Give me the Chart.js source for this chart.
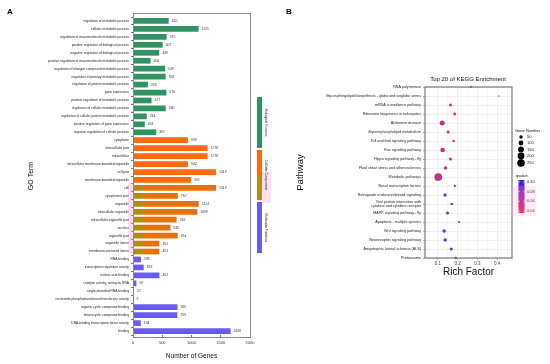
<!DOCTYPE html>
<html>
<head>
<meta charset="utf-8">
<script src="https://cdn.jsdelivr.net/npm/chart.js@4.4.0/dist/chart.umd.min.js"></script>
<style>
  html, body { margin: 0; padding: 0; background: #fff; }
  #wrap { position: relative; width: 550px; height: 364px; }
  canvas { position: absolute; left: 0; top: 0; }
</style>
</head>
<body>
<div id="wrap">
  <canvas id="goChart" width="550" height="364"></canvas>
  <canvas id="keggChart" width="550" height="364"></canvas>
</div>
<script>
// ---- panel A: GO terms ----
const bpTerms = [
  'regulation of metabolic process', 'cellular metabolic process',
  'regulation of macromolecule metabolic process', 'positive regulation of biological process',
  'negative regulation of biological process', 'positive regulation of macromolecule metabolic process',
  'regulation of nitrogen compound metabolic process', 'regulation of primary metabolic process',
  'regulation of protein metabolic process', 'gene expression',
  'positive regulation of metabolic process', 'regulation of cellular metabolic process',
  'regulation of cellular protein metabolic process', 'positive regulation of gene expression',
  'negative regulation of cellular process'
];
const bpCounts = [610, 1121, 575, 507, 449, 300, 549, 558, 255, 570, 317, 560, 234, 201, 397];

const ccTerms = [
  'cytoplasm', 'intracellular part', 'intracellular', 'intracellular membrane-bounded organelle',
  'cell part', 'membrane-bounded organelle', 'cell', 'cytoplasmic part', 'organelle',
  'intracellular organelle', 'intracellular organelle part', 'nucleus', 'organelle part',
  'organelle lumen', 'membrane-enclosed lumen'
];
const ccCounts = [939, 1276, 1276, 942, 1419, 992, 1419, 767, 1124, 1099, 746, 642, 764, 451, 451];

const mfTerms = [
  'RNA binding', 'transcription regulation activity', 'nucleic acid binding',
  'catalytic activity, acting on RNA', 'single-stranded RNA binding',
  'nucleotide phosphotransferase/transferase activity', 'organic cyclic compound binding',
  'heterocyclic compound binding', 'DNA-binding transcription factor activity', 'binding'
];
const mfCounts = [136, 183, 452, 59, 17, 9, 760, 759, 134, 1669];

const groupNames = ['Biological Process', 'Cellular Component', 'Molecular Function'];
const groupColors = ['#2f9363', '#ff6a0a', '#6b5cf0'];

// rows that sit under the pink highlight in the original figure
const highlightTerms = ['cell', 'cytoplasmic part', 'organelle', 'intracellular organelle',
  'intracellular organelle part', 'nucleus', 'organelle part', 'organelle lumen', 'membrane-enclosed lumen'];

const goTerms = bpTerms.concat(ccTerms, mfTerms);
const geneCounts = bpCounts.concat(ccCounts, mfCounts);
const barColors = bpTerms.map(() => groupColors[0])
  .concat(ccTerms.map(() => groupColors[1]), mfTerms.map(() => groupColors[2]));

// ---- panel B: KEGG ----
const keggPathways = [
  'RNA polymerase', 'Glycosphingolipid biosynthesis - globo and isoglobo series',
  'mRNA surveillance pathway', 'Ribosome biogenesis in eukaryotes', 'Alzheimer disease',
  'Glycerophospholipid metabolism', 'Toll and Imd signaling pathway', 'Ras signaling pathway',
  'Hippo signaling pathway - fly', 'Fluid shear stress and atherosclerosis', 'Metabolic pathways',
  'Basal transcription factors', 'Retrograde endocannabinoid signaling',
  ['Viral protein interaction with', 'cytokine and cytokine receptor'],
  'MAPK signaling pathway - fly', 'Apoptosis - multiple species', 'Wnt signaling pathway',
  'Neurotrophin signaling pathway', 'Amyotrophic lateral sclerosis (ALS)', 'Proteasome'
];
const richFactor = [0.268, 0.408, 0.164, 0.185, 0.122, 0.152, 0.180, 0.124, 0.164, 0.139,
  0.102, 0.186, 0.136, 0.170, 0.149, 0.207, 0.132, 0.137, 0.168, 0.190];
const geneNumber = [22, 10, 40, 35, 110, 40, 28, 90, 40, 55, 260, 22, 50, 30, 45, 18, 55, 50, 40, 28];
const qValue = [0.045, 0.04, 0.05, 0.05, 0.052, 0.053, 0.053, 0.055, 0.056, 0.058, 0.058,
  0.07, 0.08, 0.08, 0.082, 0.085, 0.09, 0.09, 0.095, 0.098];
const sizeBreaks = [50, 100, 150, 200, 250];
const qBreaks = [0.10, 0.08, 0.06, 0.04];

const FONT = "'Liberation Sans', Arial, sans-serif";

function qColor(q, a) {
  let t = (q - 0.04) / 0.06;
  t = Math.max(0, Math.min(1, t));
  const r = Math.round(245 * (1 - t) + 55 * t);
  const g = Math.round(25 * (1 - t) + 30 * t);
  const b = Math.round(70 * (1 - t) + 245 * t);
  return 'rgba(' + r + ',' + g + ',' + b + ',' + a + ')';
}
function bubbleSize(n) {
  return Math.max(0.8, Math.sqrt(n) * 0.24);
}

const goDecor = {
  id: 'goDecor',
  afterDraw(chart) {
    const ctx = chart.ctx;
    const xs = chart.scales.x, ys = chart.scales.y;
    ctx.save();
    // panel frame
    ctx.strokeStyle = '#8a8a8a';
    ctx.lineWidth = 1;
    ctx.strokeRect(133.5, 13.5, 117, 324);
    // value labels
    ctx.font = '3.4px ' + FONT;
    ctx.fillStyle = '#333';
    ctx.textBaseline = 'middle';
    ctx.textAlign = 'left';
    geneCounts.forEach((v, i) => {
      ctx.fillText(String(v), xs.getPixelForValue(v) + 3, ys.getPixelForValue(i));
    });
    // pink highlight left of the axis
    ctx.fillStyle = 'rgba(255,150,225,0.35)';
    ctx.fillRect(128, 183, 5, 70);
    // side strips
    const strips = [
      [97, 148, groupColors[0]], [150, 175, groupColors[1]], [175, 200, '#b88a14'], [202, 253, groupColors[2]]
    ];
    strips.forEach(s => {
      ctx.fillStyle = s[2];
      ctx.fillRect(257, s[0], 5, s[1] - s[0]);
    });
    ctx.fillStyle = 'rgba(255,150,225,0.3)';
    ctx.fillRect(262, 172, 9, 31);
    const mids = [122.5, 175, 227.5];
    ctx.fillStyle = '#222';
    ctx.font = '3.4px ' + FONT;
    ctx.textAlign = 'center';
    groupNames.forEach((g, k) => {
      ctx.save();
      ctx.translate(265.5, mids[k]);
      ctx.rotate(Math.PI / 2);
      ctx.fillText(g, 0, 0);
      ctx.restore();
    });
    // panel letter
    ctx.font = 'bold 8px ' + FONT;
    ctx.textAlign = 'left';
    ctx.fillStyle = '#000';
    ctx.fillText('A', 7, 12);
    ctx.restore();
  }
};

new Chart(document.getElementById('goChart'), {
  type: 'bar',
  data: {
    labels: goTerms,
    datasets: [{
      data: geneCounts,
      backgroundColor: function(c) {
        const i = c.dataIndex;
        if (highlightTerms.indexOf(goTerms[i]) < 0) return barColors[i];
        const area = c.chart.chartArea;
        const xs = c.chart.scales.x;
        if (!area || !xs) return barColors[i];
        const g = c.chart.ctx.createLinearGradient(area.left, 0, area.right, 0);
        const stop = (xs.getPixelForValue(190) - area.left) / (area.right - area.left);
        g.addColorStop(0, '#b88a14');
        g.addColorStop(stop, '#b88a14');
        g.addColorStop(stop, '#e5720e');
        g.addColorStop(1, '#e5720e');
        return g;
      },
      borderWidth: 0,
      barPercentage: 0.72,
      categoryPercentage: 1
    }]
  },
  options: {
    indexAxis: 'y',
    responsive: false,
    animation: false,
    devicePixelRatio: 1,
    layout: { padding: { left: 0, top: 17, right: 300, bottom: 0 } },
    plugins: { legend: { display: false }, tooltip: { enabled: false } },
    scales: {
      x: {
        min: 0, max: 2000,
        ticks: { stepSize: 500, font: { size: 4, family: FONT }, color: '#333', padding: 2, maxRotation: 0,
                 callback: v => String(v) },
        grid: { drawOnChartArea: false, tickLength: 3, color: '#777' },
        border: { display: false },
        title: { display: true, text: 'Number of Genes', font: { size: 6.5, family: FONT }, color: '#111',
                 padding: { top: 0, bottom: 4 } },
        afterFit: s => { s.height = 29; }
      },
      y: {
        ticks: { font: { size: 3.3, family: FONT }, color: '#222', padding: 2, autoSkip: false },
        grid: { drawOnChartArea: false, tickLength: 2, color: '#777' },
        border: { display: false },
        title: { display: true, text: 'GO Term', font: { size: 7, family: FONT }, color: '#111',
                 padding: { top: 27 } },
        afterFit: s => { s.width = 133; }
      }
    }
  },
  plugins: [goDecor]
});

const keggDecor = {
  id: 'keggDecor',
  afterDraw(chart) {
    const ctx = chart.ctx;
    const a = chart.chartArea;
    ctx.save();
    ctx.strokeStyle = '#7a7a7a';
    ctx.lineWidth = 1.2;
    ctx.strokeRect(a.left, a.top, a.right - a.left, a.bottom - a.top);
    ctx.fillStyle = '#111';
    ctx.font = '6px ' + FONT;
    ctx.textAlign = 'center';
    ctx.textBaseline = 'middle';
    ctx.fillText('Top 20 of KEGG Enrichment', 468, 79);
    // size legend
    ctx.textAlign = 'left';
    ctx.font = '4px ' + FONT;
    ctx.fillText('Gene Number', 515, 131);
    const ly = [137, 143, 149.5, 156, 163];
    sizeBreaks.forEach((n, k) => {
      ctx.fillStyle = '#000';
      ctx.beginPath();
      ctx.arc(521, ly[k], bubbleSize(n), 0, Math.PI * 2);
      ctx.fill();
      ctx.fillStyle = '#222';
      ctx.fillText(String(n), 527, ly[k]);
    });
    // colour bar
    ctx.fillStyle = '#111';
    ctx.fillText('qvalue', 516, 176);
    const top = 180, bot = 213;
    const g = ctx.createLinearGradient(0, top, 0, bot);
    for (let k = 0; k <= 10; k++) {
      g.addColorStop(k / 10, qColor(0.10 - 0.06 * k / 10, 1));
    }
    ctx.fillStyle = g;
    ctx.fillRect(518.5, top, 6, bot - top);
    qBreaks.forEach(q => {
      const y = top + 2 + (0.10 - q) / 0.06 * (bot - top - 4);
      ctx.strokeStyle = '#fff';
      ctx.lineWidth = 0.6;
      ctx.beginPath(); ctx.moveTo(518.5, y); ctx.lineTo(520, y); ctx.moveTo(523, y); ctx.lineTo(524.5, y); ctx.stroke();
      ctx.fillStyle = '#222';
      ctx.fillText(q.toFixed(2), 527, y);
    });
    ctx.fillStyle = 'rgba(255,160,225,0.22)';
    ctx.fillRect(511, 186, 25, 30);
    ctx.font = 'bold 8px ' + FONT;
    ctx.fillStyle = '#000';
    ctx.fillText('B', 286, 12);
    ctx.restore();
  }
};

new Chart(document.getElementById('keggChart'), {
  type: 'scatter',
  data: {
    labels: keggPathways,
    datasets: [{
      data: richFactor.map((x, i) => ({ x: x, y: i })),
      pointRadius: c => bubbleSize(geneNumber[c.dataIndex]),
      pointBackgroundColor: c => qColor(qValue[c.dataIndex], 0.9),
      pointBorderWidth: 0
    }]
  },
  options: {
    responsive: false,
    animation: false,
    devicePixelRatio: 1,
    layout: { padding: { left: 280, top: 87, right: 38, bottom: 80 } },
    plugins: { legend: { display: false }, tooltip: { enabled: false } },
    scales: {
      x: {
        type: 'linear', min: 0.035, max: 0.475,
        afterBuildTicks: s => {
          const t = [];
          for (let k = 1; k <= 9; k++) t.push({ value: Math.round(k * 5) / 100 });
          s.ticks = t;
        },
        ticks: {
          font: { size: 4.5, family: FONT }, color: '#444', padding: 1, maxRotation: 0, autoSkip: false,
          callback: v => (Math.round(v * 100) % 10 === 0 ? v.toFixed(1) : '')
        },
        grid: {
          color: c => (c.tick && Math.round(c.tick.value * 100) % 10 === 0 ? '#e6e6e6' : '#f3f3f3'),
          tickColor: c => (c.tick && Math.round(c.tick.value * 100) % 10 === 0 ? '#777' : 'rgba(0,0,0,0)'),
          tickLength: 2, lineWidth: 0.6
        },
        border: { display: false },
        title: { display: true, text: 'Rich Factor', font: { size: 10, family: FONT }, color: '#111',
                 padding: { top: 0, bottom: 6 } },
        afterFit: s => { s.height = 26; }
      },
      y: {
        type: 'category',
        ticks: { font: { size: 3.7, family: FONT, lineHeight: 1.3 }, color: '#222', padding: 2, autoSkip: false },
        grid: { color: '#e6e6e6', lineWidth: 0.6, tickLength: 2, tickColor: '#777' },
        border: { display: false },
        title: { display: true, text: 'Pathway', font: { size: 9.5, family: FONT }, color: '#111',
                 padding: { top: 15 } },
        afterFit: s => { s.width = 145; }
      }
    }
  },
  plugins: [keggDecor]
});
</script>
</body>
</html>
